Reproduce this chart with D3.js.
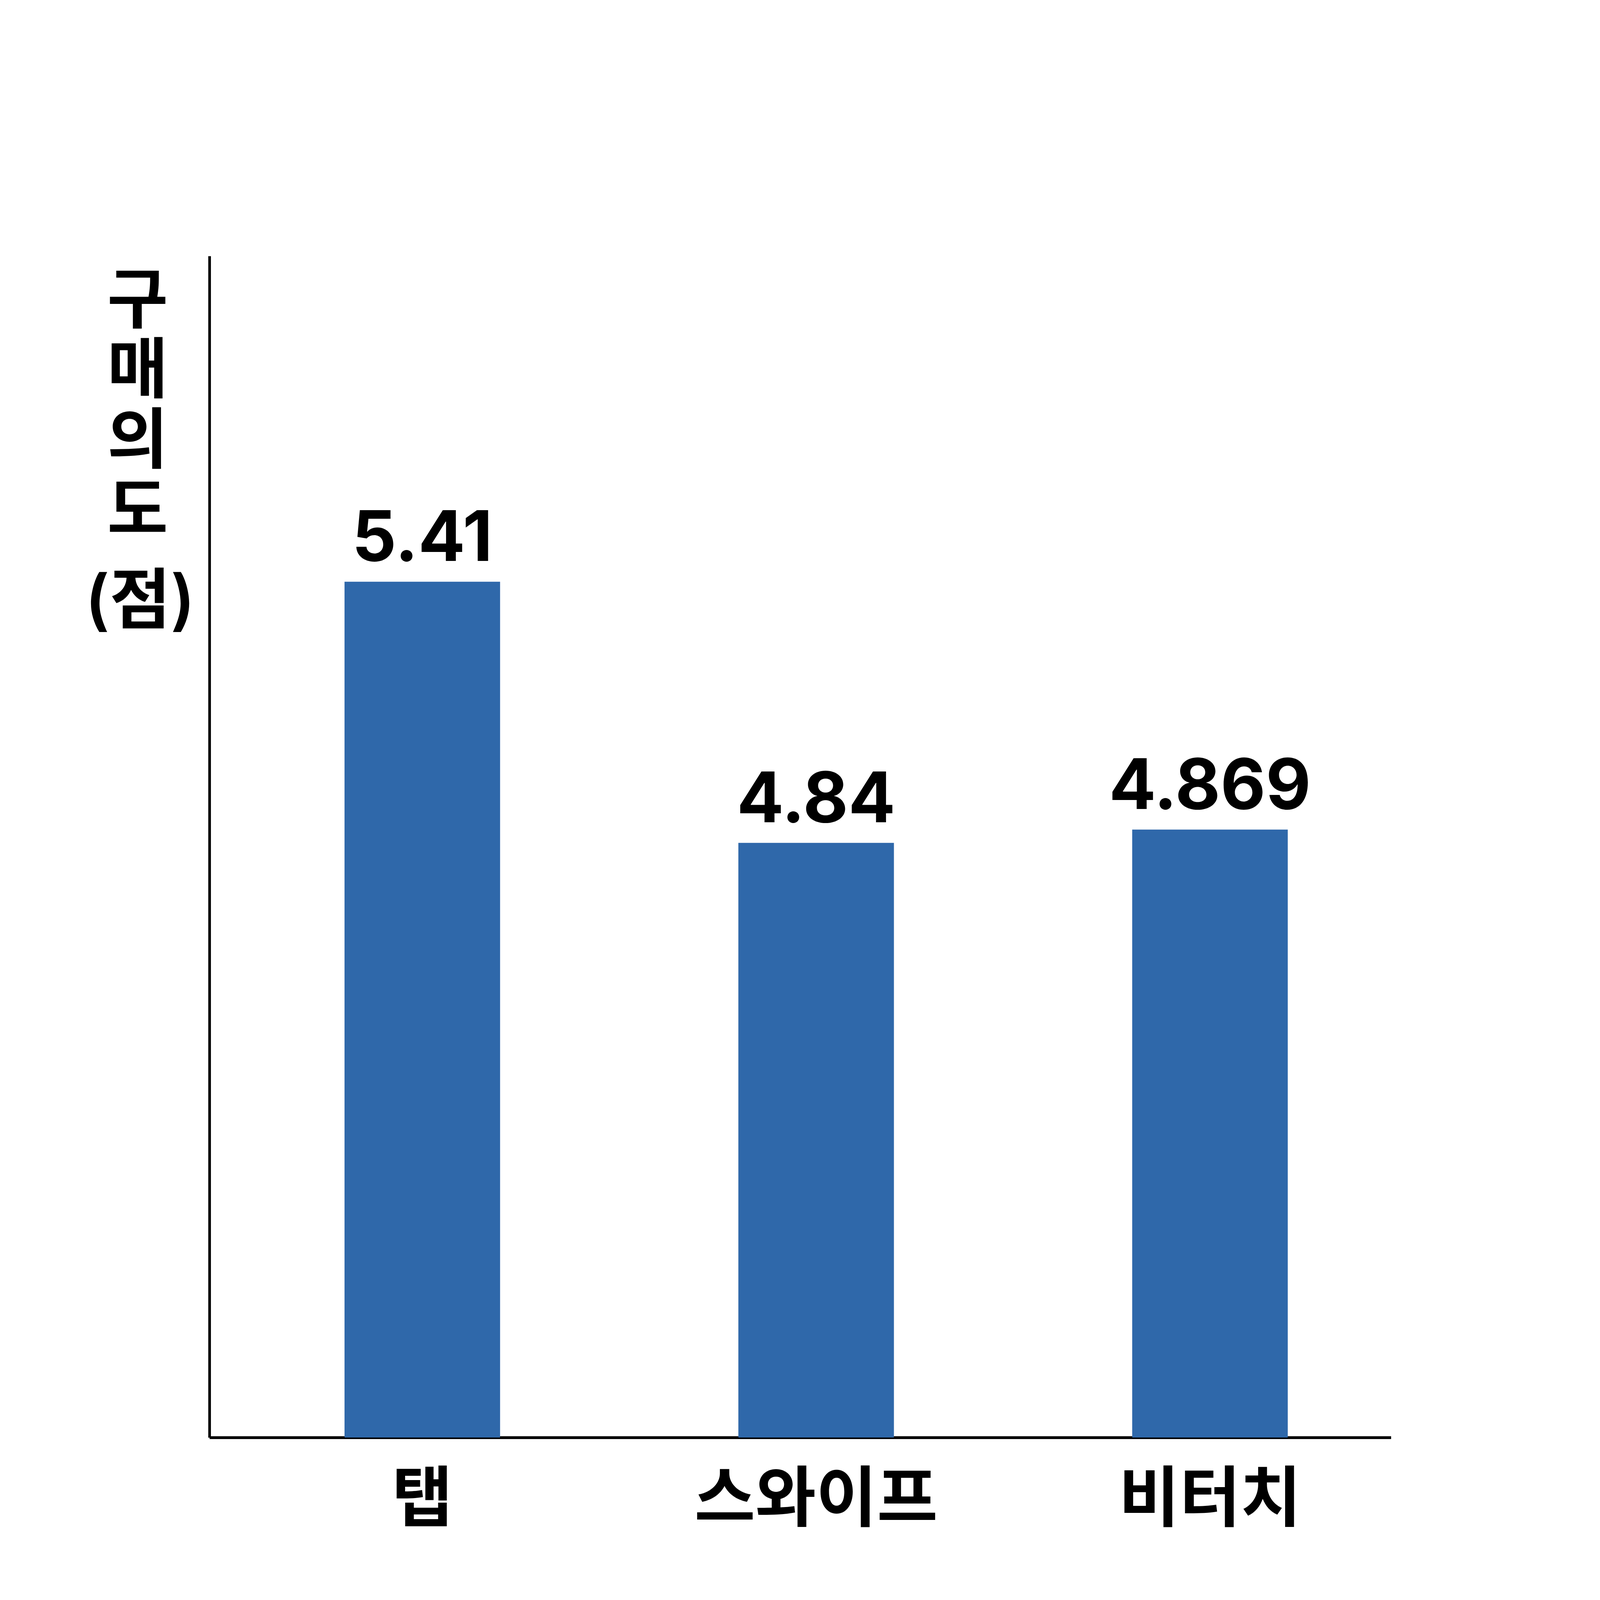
<!DOCTYPE html>
<html>
<head>
<meta charset="utf-8">
<script src="https://cdn.jsdelivr.net/npm/d3@7"></script>
<style>
  html, body { margin: 0; padding: 0; background: #fff; overflow: hidden; }
  svg { display: block; width: 100vw; height: 100vh; }
  text { font-family: Inter, 'Noto Sans CJK KR', sans-serif; }
</style>
</head>
<body>
<svg></svg>
<script>
// data
const categories = ['탭', '스와이프', '비터치']
const values = [5.41, 4.84, 4.869]
const valueLabels = ['5.41', '4.84', '4.869']
const yTitle = '구매의도'
const yUnit = '(점)'

const width = 4500
const height = 4500
const plot = {
  left: 589,
  right: 3912,
  top: 720,
  bottom: 4043
}

// fit the drawing to whatever the viewport is
const svg = d3.select('svg')
  .attr('viewBox', `0 0 ${width} ${height}`)
  .attr('preserveAspectRatio', 'xMidYMid meet')

svg.append('rect')
  .attr('width', width)
  .attr('height', height)
  .attr('fill', '#fff')

const xScale = d3.scaleBand()
  .domain(categories)
  .range([plot.left, plot.right])
  .paddingInner(0.605)
  .paddingOuter(0.3025)
  .align(0.567)

// axis does not start at zero
const yMin = 3.542
const yScale = d3.scaleLinear()
  .domain([yMin, 6.121])
  .range([plot.bottom, plot.top])

const xAxis = d3.axisBottom(xScale)
  .tickSize(0)
  .tickSizeOuter(0)

const xg = svg.append('g')
  .attr('transform', `translate(0, ${plot.bottom})`)
  .call(xAxis)

xg.select('.domain')
  .attr('stroke', '#000')
  .attr('stroke-width', 8)

xg.selectAll('text')
  .attr('y', 168)
  .attr('dy', null)
  .attr('dominant-baseline', 'central')
  .attr('fill', '#000')
  .style('font-size', '186px')
  .style('font-weight', 600)
  .style('font-family', "Inter, 'Noto Sans CJK KR', sans-serif")

const yAxis = d3.axisLeft(yScale)
  .tickValues([])
  .tickSizeOuter(0)

svg.append('g')
  .attr('transform', `translate(${plot.left}, 0)`)
  .call(yAxis)
  .select('.domain')
  .attr('stroke', '#000')
  .attr('stroke-width', 7.5)

svg.append('g')
  .selectAll('rect')
  .data(values)
  .enter()
  .append('rect')
  .attr('x', (d, i) => xScale(categories[i]))
  .attr('y', d => yScale(d))
  .attr('width', xScale.bandwidth())
  .attr('height', d => yScale(yMin) - yScale(d))
  .attr('fill', '#2f68aa')

svg.append('g')
  .selectAll('text')
  .data(values)
  .enter()
  .append('text')
  .text((d, i) => valueLabels[i])
  .attr('x', (d, i) => xScale(categories[i]) + xScale.bandwidth() / 2)
  .attr('y', d => yScale(d) - 58)
  .attr('text-anchor', 'middle')
  .attr('fill', '#000')
  .style('font-size', '196px')
  .style('font-weight', 700)

// stacked vertical title, then the unit underneath
svg.append('text')
  .text(yTitle)
  .attr('x', 374)
  .attr('y', 744)
  .attr('fill', '#000')
  .style('writing-mode', 'vertical-rl')
  .style('text-orientation', 'upright')
  .style('letter-spacing', '11px')
  .style('font-size', '186px')
  .style('font-weight', 600)

svg.append('text')
  .text(yUnit)
  .attr('x', 394)
  .attr('y', 1685)
  .attr('text-anchor', 'middle')
  .attr('dominant-baseline', 'central')
  .attr('fill', '#000')
  .style('font-size', '186px')
  .style('font-weight', 600)
</script>
</body>
</html>
